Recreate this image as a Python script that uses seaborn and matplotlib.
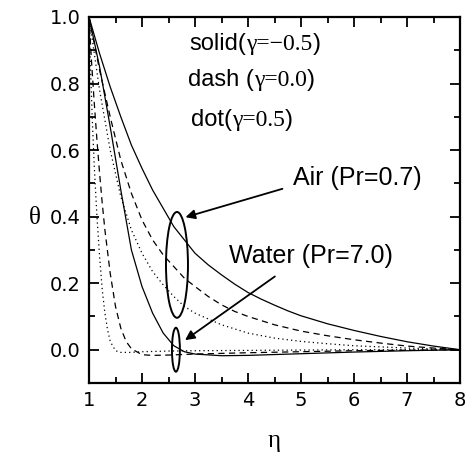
import matplotlib
matplotlib.use("Agg")
import matplotlib.pyplot as plt
import seaborn as sns
import numpy as np
from matplotlib.patches import Ellipse
from matplotlib.ticker import MultipleLocator, FormatStrFormatter
from matplotlib.offsetbox import TextArea, HPacker, AnnotationBbox

# ---------------- data ----------------
# Air, Pr = 0.7
air_solid_eta = [1.0, 1.2, 1.4, 1.6, 1.8, 2.0, 2.2, 2.4, 2.6, 2.8, 3.0, 3.25, 3.5, 3.75, 4.0, 4.25, 4.5, 4.75, 5.0, 5.5, 6.0, 6.5, 7.0, 7.5, 8.0]
air_solid_theta = [1.0, 0.89, 0.79, 0.70, 0.615, 0.545, 0.48, 0.425, 0.37, 0.33, 0.29, 0.255, 0.225, 0.197, 0.172, 0.152, 0.134, 0.117, 0.102, 0.078, 0.058, 0.04, 0.024, 0.011, 0.0]

air_dash_eta = [1.0, 1.2, 1.4, 1.6, 1.8, 2.0, 2.2, 2.4, 2.6, 2.8, 3.0, 3.25, 3.5, 3.75, 4.0, 4.5, 5.0, 5.5, 6.0, 6.5, 7.0, 7.5, 8.0]
air_dash_theta = [1.0, 0.84, 0.70, 0.57, 0.47, 0.39, 0.33, 0.285, 0.25, 0.215, 0.19, 0.16, 0.135, 0.115, 0.10, 0.075, 0.056, 0.042, 0.03, 0.02, 0.011, 0.005, 0.0]

air_dot_eta = [1.0, 1.2, 1.4, 1.6, 1.8, 2.0, 2.2, 2.4, 2.6, 2.8, 3.0, 3.5, 4.0, 4.5, 5.0, 5.5, 6.0, 7.0, 8.0]
air_dot_theta = [1.0, 0.78, 0.60, 0.46, 0.36, 0.29, 0.235, 0.195, 0.16, 0.13, 0.11, 0.075, 0.05, 0.035, 0.025, 0.018, 0.012, 0.005, 0.0]

# Water, Pr = 7.0
water_solid_eta = [1.0, 1.2, 1.4, 1.6, 1.8, 2.0, 2.2, 2.4, 2.6, 2.8, 3.0, 3.5, 4.0, 5.0, 6.0, 7.0, 8.0]
water_solid_theta = [1.0, 0.85, 0.67, 0.48, 0.30, 0.19, 0.11, 0.05, 0.012, -0.006, -0.013, -0.018, -0.017, -0.012, -0.007, -0.003, 0.0]

water_dash_eta = [1.0, 1.05, 1.1, 1.15, 1.2, 1.25, 1.3, 1.4, 1.5, 1.6, 1.7, 1.8, 2.0, 2.2, 2.5, 3.0, 4.0, 5.0, 6.0, 8.0]
water_dash_theta = [1.0, 0.86, 0.74, 0.63, 0.53, 0.44, 0.36, 0.23, 0.13, 0.065, 0.025, 0.003, -0.015, -0.017, -0.016, -0.013, -0.009, -0.006, -0.003, 0.0]

water_dot_eta = [1.0, 1.03, 1.06, 1.1, 1.15, 1.2, 1.25, 1.3, 1.35, 1.4, 1.5, 1.6, 1.8, 2.0, 2.5, 3.0, 4.0, 5.0, 6.0, 8.0]
water_dot_theta = [1.0, 0.84, 0.70, 0.55, 0.40, 0.28, 0.18, 0.11, 0.06, 0.025, -0.003, -0.008, -0.008, -0.006, -0.004, -0.003, -0.002, -0.001, 0.0, 0.0]

x_ticks = [1, 2, 3, 4, 5, 6, 7, 8]
y_ticks = [0.0, 0.2, 0.4, 0.6, 0.8, 1.0]

# ---------------- style ----------------
sns.set_theme(style="ticks")
plt.rcParams["font.family"] = ["Liberation Sans", "DejaVu Sans"]
plt.rcParams["axes.edgecolor"] = "black"
plt.rcParams["text.color"] = "black"
plt.rcParams["axes.labelcolor"] = "black"
plt.rcParams["xtick.color"] = "black"
plt.rcParams["ytick.color"] = "black"
plt.rcParams["xtick.labelcolor"] = "black"
plt.rcParams["ytick.labelcolor"] = "black"

fig = plt.figure(figsize=(4.66, 4.70), dpi=100)
ax = fig.add_axes([89 / 466, 1 - 383 / 470, (460 - 89) / 466, (383 - 17) / 470])

SOLID = "-"
DASH = (0, (5, 3.5))
DOT = (0, (1, 2.5))

curves = [
    (air_solid_eta, air_solid_theta, SOLID),
    (air_dash_eta, air_dash_theta, DASH),
    (air_dot_eta, air_dot_theta, DOT),
    (water_solid_eta, water_solid_theta, SOLID),
    (water_dash_eta, water_dash_theta, DASH),
    (water_dot_eta, water_dot_theta, DOT),
]
for eta, theta, ls in curves:
    sns.lineplot(x=eta, y=theta, ax=ax, color="black", lw=0.9,
                 linestyle=ls, estimator=None, sort=False)

ax.set_xlim(1, 8)
ax.set_ylim(-0.1, 1.0)
ax.set_xticks(x_ticks)
ax.set_yticks(y_ticks)
ax.xaxis.set_minor_locator(MultipleLocator(0.5))
ax.yaxis.set_minor_locator(MultipleLocator(0.1))
ax.yaxis.set_major_formatter(FormatStrFormatter("%.1f"))
ax.tick_params(which="both", direction="in", top=True, right=True, width=1.3, pad=6,
               colors="black", labelcolor="black")
ax.tick_params(which="major", length=7)
ax.tick_params(which="minor", length=4)
for lab in ax.get_xticklabels() + ax.get_yticklabels():
    lab.set_fontfamily("DejaVu Sans")
    lab.set_fontsize(14)
    lab.set_color("black")
for sp in ax.spines.values():
    sp.set_linewidth(1.6)
    sp.set_color("black")

ax.set_xlabel("η", fontfamily="Liberation Serif", fontsize=18, labelpad=14, color="black")
ax.set_ylabel("θ", fontfamily="Liberation Serif", fontsize=18, rotation=0,
              color="black", va="center", ha="center")
ax.yaxis.set_label_coords(-54 / 371, (350 - 218) / 366 + 33 / 366)

# ---------------- annotations ----------------
sans = dict(family="Liberation Sans", size=17, color="black")
serif = dict(family="Liberation Serif", size=17, color="black")


def mixed(parts, xy):
    boxes = [TextArea(t, textprops=(sans if kind == "s" else serif)) for t, kind in parts]
    pack = HPacker(children=boxes, align="baseline", pad=0, sep=0)
    ab = AnnotationBbox(pack, xy, xycoords="data", frameon=False, box_alignment=(0.5, 0.5))
    ax.add_artist(ab)


mixed([("solid(", "s"), ("γ=−0.5", "r"), (")", "s")], (4.13, 0.92))
mixed([("dash (", "s"), ("γ=0.0", "r"), (")", "s")], (4.06, 0.81))
mixed([("dot(", "s"), ("γ=0.5", "r"), (")", "s")], (3.89, 0.69))

ax.text(6.07, 0.517, "Air (Pr=0.7)", fontsize=18, ha="center", va="center", color="black")
ax.text(5.18, 0.283, "Water (Pr=7.0)", fontsize=18, ha="center", va="center", color="black")

ax.annotate("", xy=(2.77, 0.396), xytext=(4.70, 0.486),
            arrowprops=dict(arrowstyle="-|>", color="black", lw=1.3, mutation_scale=14))
ax.annotate("", xy=(2.77, 0.024), xytext=(4.55, 0.225),
            arrowprops=dict(arrowstyle="-|>", color="black", lw=1.3, mutation_scale=14))

ax.add_patch(Ellipse((2.66, 0.255), 0.415, 0.318, fill=False, lw=1.4, ec="black"))
ax.add_patch(Ellipse((2.64, 0.0), 0.15, 0.132, fill=False, lw=1.4, ec="black"))

fig.savefig("out.png", dpi=100)
